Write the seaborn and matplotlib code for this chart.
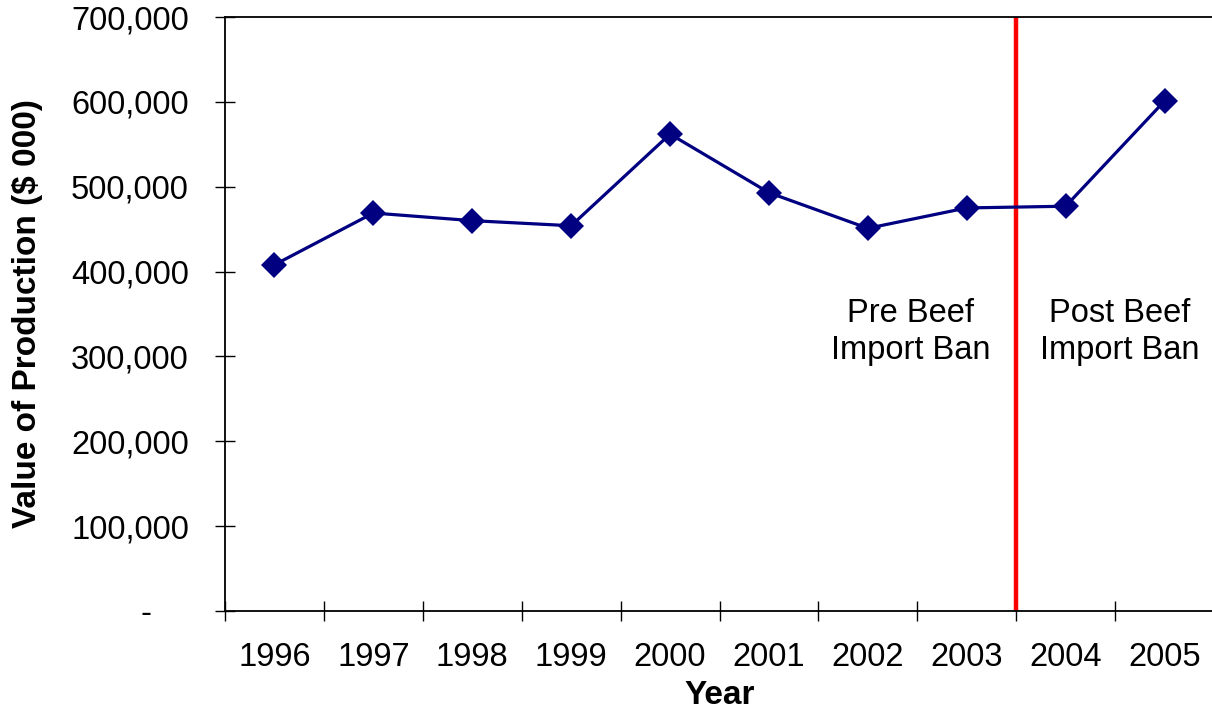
import matplotlib
matplotlib.use("Agg")
import matplotlib.pyplot as plt
from matplotlib.ticker import FuncFormatter, FixedLocator
import seaborn as sns
import pandas as pd

# Annual value of production, thousands of dollars
years = ["1996", "1997", "1998", "1999", "2000", "2001", "2002", "2003", "2004", "2005"]
values = [408000, 469000, 460000, 454000, 562000, 493000, 451000, 475000, 477000, 601000]
y_ticks = [0, 100000, 200000, 300000, 400000, 500000, 600000, 700000]

df = pd.DataFrame({"Year": years, "Value": values})

sns.set_theme(style="white")
plt.rcParams["font.family"] = ["Liberation Sans", "DejaVu Sans"]
plt.rcParams["text.color"] = "black"
plt.rcParams["axes.labelcolor"] = "black"
plt.rcParams["xtick.color"] = "black"
plt.rcParams["ytick.color"] = "black"

fig = plt.figure(figsize=(12.12, 7.11), dpi=100)
ax = fig.add_axes([225 / 1212, 100 / 711, 989 / 1212, 594 / 711])

sns.lineplot(data=df, x="Year", y="Value", ax=ax, color="#000080", linewidth=2.3,
             marker="D", markersize=13, markeredgewidth=0, sort=False)

ax.set_xlim(-0.5, len(years) - 0.5)
ax.set_ylim(0, 700000)

# Divider between the pre- and post-ban periods
ax.axvline(7.5, color="#ff0000", linewidth=3.2, zorder=1)

ax.text(6.43, 329000, "Pre Beef\nImport Ban", ha="center", va="center",
        fontsize=23.5, linespacing=1.25, color="black")
ax.text(8.55, 329000, "Post Beef\nImport Ban", ha="center", va="center",
        fontsize=23.5, linespacing=1.25, color="black")


def fmt_value(v, pos):
    # accounting style: zero shown as a dash, indented from the right
    return "-    " if v == 0 else f"{int(v):,}"


ax.set_yticks(y_ticks)
ax.yaxis.set_major_formatter(FuncFormatter(fmt_value))
ax.set_xticks(range(len(years)))
ax.set_xticklabels(years)
ax.xaxis.set_minor_locator(FixedLocator([i - 0.5 for i in range(len(years) + 1)]))

ax.tick_params(axis="y", which="major", direction="inout", length=14, width=1.0,
               colors="black", labelsize=23.5, pad=19, left=True)
ax.tick_params(axis="x", which="major", length=0, labelsize=23.5, pad=22, bottom=True,
               labelcolor="black")
ax.tick_params(axis="x", which="minor", direction="inout", length=14, width=1.0,
               color="black", bottom=True)

for side in ["left", "bottom", "top"]:
    ax.spines[side].set_visible(True)
    ax.spines[side].set_color("black")
    ax.spines[side].set_linewidth(1.3)
ax.spines["right"].set_visible(False)

ax.set_xlabel("Year", fontsize=24, fontweight="bold", labelpad=5, color="black")
ax.set_ylabel("Value of Production ($ 000)", fontsize=24, fontweight="bold", labelpad=20,
              color="black")
ax.grid(False)

fig.savefig("out.png", dpi=100, facecolor="white")
